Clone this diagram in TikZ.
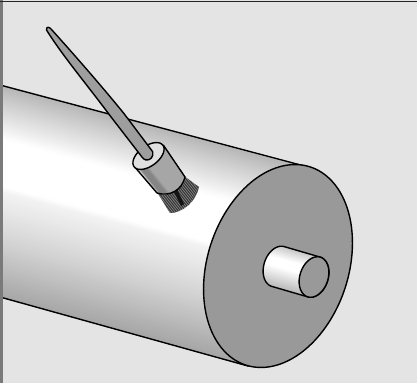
\documentclass[tikz,border=0pt]{standalone}
\tikzset{
  declare function={
    ex(\c,\k,\t)=\c+\k*(70.6*cos(\t)*0.951+104.2*sin(\t)*0.309);
    ey(\c,\k,\t)=\c+\k*(70.6*cos(\t)*0.309-104.2*sin(\t)*0.951);
    bodyg(\s)=\s<.07?(.72+\s/.07*.08):(\s<.2?(.80+(\s-.07)/.13*.14):(\s<.25?(.94+(\s-.2)/.05*.06):(\s<.47?1:(\s<.5?(1-(\s-.47)/.03*.05):(\s<.6?(.95-(\s-.5)/.1*.05):(\s<.73?(.90-(\s-.6)/.13*.07):(.83-(\s-.73)/.27*.18)))))));
    shaftg(\s)=\s<.3?(.78+\s/.3*.22):(\s<.5?1:(1-(\s-.5)/.5*.28));
    ferg(\k)=\k<3?.86:(\k<5?(.86-(\k-3)/2*.34):(\k<10?.52:(\k<13?(.52+(\k-10)/3*.13):.65)));
  },
  outline/.style={draw=black,line width=1.4pt},
}
\begin{document}
\begin{tikzpicture}[x=1pt,y=-1pt,line join=round,line cap=round]
\useasboundingbox (0,0) rectangle (417,383);
\clip (0,0) rectangle (417,383);
% background
\fill[black!10.5] (0,0) rectangle (417,383);
% cylinder body
\begin{scope}
  \clip (0,85) -- (308,167) -- (248,366) -- (0,297) -- cycle;
  \foreach \i in {0,...,106}{
    \pgfmathsetmacro\s{\i/106}
    \pgfmathsetmacro\g{bodyg(\s)}
    \definecolor{stripc}{gray}{\g}
    \pgfmathsetmacro\y{85+212*\s}
    \fill[stripc] (0,\y) -- (330,\y+89) -- (330,520) -- (0,520) -- cycle;
  }
\end{scope}
\draw[outline] (0,85) -- (308,167);
\draw[outline] (0,297) -- (248,366);
% end face
\filldraw[fill=black!40,outline] plot[smooth cycle,samples=72,domain=0:355] ({ex(278,1,\x)},{ey(266,1,\x)});
% shaft
\begin{scope}
  \clip plot[samples=40,domain=92:272] ({ex(278,.2,\x)},{ey(266.5,.2,\x)}) -- plot[samples=40,domain=272:452] ({ex(314,.2,\x)},{ey(277,.2,\x)}) -- cycle;
  \foreach \i in {0,...,40}{
    \pgfmathsetmacro\s{\i/40}
    \pgfmathsetmacro\g{shaftg(\s)}
    \definecolor{stripc}{gray}{\g}
    \pgfmathsetmacro\px{284-12*\s}
    \pgfmathsetmacro\py{246.5+40*\s}
    \fill[stripc] (\px-30,\py-8.1) -- (\px+70,\py+18.9) -- (\px+70,\py+80) -- (\px-30,\py+52) -- cycle;
  }
\end{scope}
\draw[outline] plot[samples=40,domain=92:272] ({ex(278,.2,\x)},{ey(266.5,.2,\x)}) -- plot[samples=40,domain=272:452] ({ex(314,.2,\x)},{ey(277,.2,\x)}) -- cycle;
\filldraw[fill=black!40,outline] plot[smooth cycle,samples=36,domain=0:350] ({ex(314,.2,\x)},{ey(277,.2,\x)});
% bristles
\begin{scope}
  \clip (157,192) -- (170,213) .. controls (182,213) and (196,202) .. (199,187) -- (184,176) -- cycle;
  \fill[black!80] (150,170) rectangle (205,216);
  \foreach \k in {0,...,30}{
    \pgfmathsetmacro\ax{150+2*\k*.8}
    \pgfmathsetmacro\ay{190-2*\k*.6}
    \draw[black!48,line width=.7pt] (\ax,\ay) -- (\ax+24.8,\ay+31.2);
  }
  \fill[black!92] (173,190) -- (177,189) -- (184,204) -- (181,206) -- cycle;
\end{scope}
% ferrule
\begin{scope}
  \clip (134.6,166.8) -- (157,193) .. controls (170,197) and (182,190) .. (185,177) -- (163.4,145.2) -- cycle;
  \foreach \k in {0,...,38}{
    \pgfmathsetmacro\q{\k*.75}
    \pgfmathsetmacro\g{ferg(\q)}
    \definecolor{stripc}{gray}{\g}
    \pgfmathsetmacro\ax{133+\q*.8}
    \pgfmathsetmacro\ay{168-\q*.6}
    \fill[stripc] (\ax,\ay) -- (\ax+32,\ay+40) -- (\ax+56,\ay+22) -- (\ax+24,\ay-18) -- cycle;
  }
\end{scope}
\draw[outline] (134.6,166.8) -- (157,193) .. controls (170,197) and (182,190) .. (185,177) -- (163.4,145.2);
\filldraw[fill=black!12,outline] plot[smooth cycle,samples=36,domain=0:350] ({148.5+18*cos(\x)*.8+10*sin(\x)*.6},{156-18*cos(\x)*.6+10*sin(\x)*.8});
% handle
\filldraw[fill=black!38,outline] (46.5,30) .. controls (46,26.5) and (49.5,26.5) .. (51.5,29.5)
  .. controls (70,50) and (100,84) .. (124,113.6) -- (152.7,151.7)
  .. controls (154,157) and (150,160.5) .. (146,160) .. controls (144,159.5) and (143,158.5) .. (141.7,156.7)
  -- (108,113) .. controls (88,86) and (62,55) .. (46.5,30) -- cycle;
% frame
\fill[black!52] (0,0) rectangle (3,383);
\draw[black!85,line width=.9pt] (0,1.5) -- (417,1.5);
\end{tikzpicture}
\end{document}
